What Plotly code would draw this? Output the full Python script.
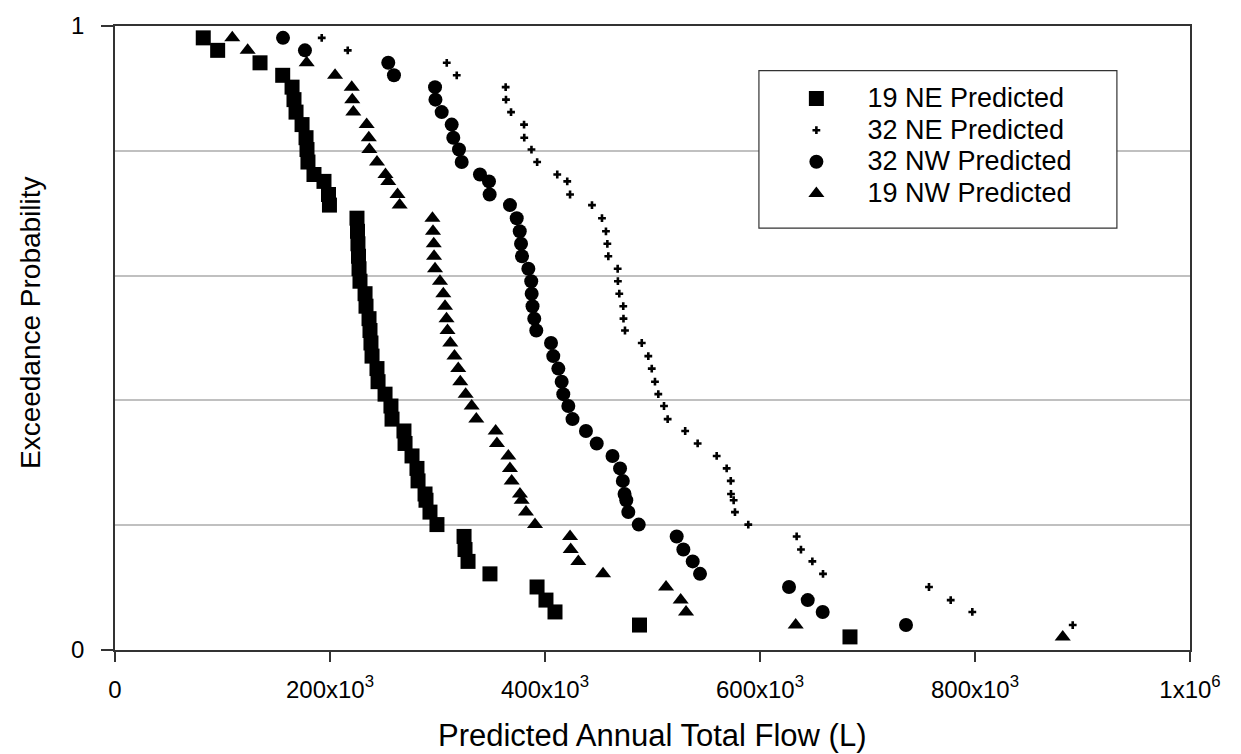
import plotly.graph_objects as go

FONT = "Liberation Sans, Arial, sans-serif"

# Exceedance probability of each ranked year
exceed_prob = [0.981, 0.961, 0.941, 0.921, 0.902, 0.882, 0.862, 0.842, 0.821, 0.802,
               0.782, 0.762, 0.751, 0.730, 0.713, 0.692, 0.671, 0.651, 0.631, 0.611,
               0.591, 0.571, 0.551, 0.531, 0.512, 0.492, 0.471, 0.451, 0.430, 0.410,
               0.391, 0.370, 0.351, 0.331, 0.311, 0.291, 0.271, 0.250, 0.240, 0.221,
               0.201, 0.182, 0.161, 0.142, 0.122, 0.101, 0.080, 0.061, 0.040, 0.021]

# Predicted annual total flow (L), ranked from smallest to largest
flow_19ne = [82100, 95500, 134900, 156000, 164700, 166500, 168400, 174000, 177700, 178600,
             179500, 185100, 194400, 198600, 199500, 225100, 225600, 226000, 226500, 227000,
             227900, 232600, 233500, 236300, 237200, 238100, 239100, 243700, 244700, 251200,
             256700, 257700, 268800, 269800, 276300, 280900, 281900, 288400, 289300, 293000,
             299500, 324700, 325600, 328400, 348800, 392600, 400900, 409300, 487900, 683700]

flow_32ne = [192300, 216500, 308600, 317900, 363400, 363700, 368400, 380500, 380700, 387400,
             392700, 411400, 420700, 423300, 443700, 453000, 456700, 458000, 458900, 467600,
             467800, 469100, 472800, 473000, 474400, 490000, 496100, 499300, 502300, 505400,
             510700, 514100, 530400, 542000, 559700, 569000, 572800, 573000, 575500, 576700,
             589100, 634100, 638100, 648700, 658600, 757200, 777400, 797500, 890900]

flow_32nw = [156300, 176700, 254200, 259500, 297700, 298100, 303900, 313200, 314700, 320000,
             322500, 339500, 347900, 348500, 367400, 373700, 376500, 377700, 378600, 384500,
             387200, 387600, 388400, 390000, 391900, 405600, 407700, 412400, 415500, 417000,
             421700, 425600, 438100, 448100, 462800, 469800, 472400, 474000, 475600, 477500,
             487200, 522500, 528700, 537400, 544200, 627000, 644400, 658300, 735800]

flow_19nw = [109100, 123400, 178300, 204700, 220200, 220700, 221700, 234100, 236100, 236600,
             243700, 251600, 254200, 262800, 264800, 295300, 295800, 296500, 296800, 297700,
             302300, 305400, 307000, 308400, 309300, 311900, 315800, 319300, 321200, 326200,
             331800, 336100, 354100, 355300, 365900, 367400, 369000, 376700, 378300, 382300,
             390700, 423300, 423900, 431000, 454000, 512600, 526200, 531200, 633200, 881600]

x_tick_vals = [0, 200000, 400000, 600000, 800000, 1000000]
x_tick_text = ["0", "200x10<sup>3</sup>", "400x10<sup>3</sup>", "600x10<sup>3</sup>",
               "800x10<sup>3</sup>", "1x10<sup>6</sup>"]
y_tick_vals = [0, 1]
y_tick_text = ["0", "1"]
y_grid_vals = [0.2, 0.4, 0.6, 0.8]

series = [
    ("19 NE Predicted", flow_19ne, "square", 15),
    ("32 NE Predicted", flow_32ne, "cross", 6.5),
    ("32 NW Predicted", flow_32nw, "circle", 14),
    ("19 NW Predicted", flow_19nw, "triangle-up", 14),
]

fig = go.Figure()
for name, flows, symbol, size in series:
    fig.add_trace(go.Scatter(
        x=flows,
        y=exceed_prob[:len(flows)],
        mode="markers",
        # legend rows stay compact while the entry text is drawn a little larger
        name='<span style="font-size:27px">' + name + "</span>",
        marker=dict(symbol=symbol, size=size, color="black", line=dict(width=0)),
        cliponaxis=False,
    ))

axis_color = "#333333"

fig.update_layout(
    width=1241,
    height=754,
    margin=dict(l=115, r=51, t=20, b=104),
    paper_bgcolor="white",
    plot_bgcolor="white",
    font=dict(family=FONT, color="black"),
    showlegend=True,
    legend=dict(
        x=0.605, xanchor="left",
        y=0.917, yanchor="top",
        bgcolor="rgba(0,0,0,0)",
        borderwidth=0,
        font=dict(family=FONT, size=22, color="black"),
        itemwidth=92,
        traceorder="normal",
    ),
    xaxis=dict(
        range=[0, 1000000],
        tickmode="array",
        tickvals=x_tick_vals,
        ticktext=x_tick_text,
        ticks="outside",
        ticklen=10,
        tickwidth=1.5,
        tickcolor=axis_color,
        tickfont=dict(family=FONT, size=24, color="black"),
        ticklabelstandoff=7,
        showline=True,
        linecolor=axis_color,
        linewidth=1.5,
        mirror=True,
        showgrid=False,
        zeroline=False,
    ),
    yaxis=dict(
        range=[0, 1],
        tickmode="array",
        tickvals=y_tick_vals,
        ticktext=y_tick_text,
        ticks="outside",
        ticklen=12,
        tickwidth=1.5,
        tickcolor=axis_color,
        tickfont=dict(family=FONT, size=24, color="black"),
        ticklabelstandoff=12,
        showline=True,
        linecolor=axis_color,
        linewidth=1.5,
        mirror=True,
        showgrid=False,
        zeroline=False,
        minor=dict(tickvals=y_grid_vals, showgrid=True, gridcolor="#c0c0c0",
                   gridwidth=2, ticks=""),
    ),
    shapes=[
        # legend frame
        dict(type="rect", xref="paper", yref="paper",
             x0=0.599, x1=0.932, y0=0.676, y1=0.9286,
             line=dict(color=axis_color, width=1.2), fillcolor="white", layer="above"),
    ],
    annotations=[
        dict(text="Predicted Annual Total Flow (L)", xref="paper", yref="paper",
             x=0.5, y=-0.137, xanchor="center", yanchor="middle", showarrow=False,
             font=dict(family=FONT, size=31, color="black")),
        dict(text="Exceedance Probability", xref="paper", yref="paper",
             x=0, xshift=-85, y=0.524, xanchor="center", yanchor="middle",
             textangle=-90, showarrow=False,
             font=dict(family=FONT, size=28, color="black")),
    ],
)

fig.write_html("out.html")
